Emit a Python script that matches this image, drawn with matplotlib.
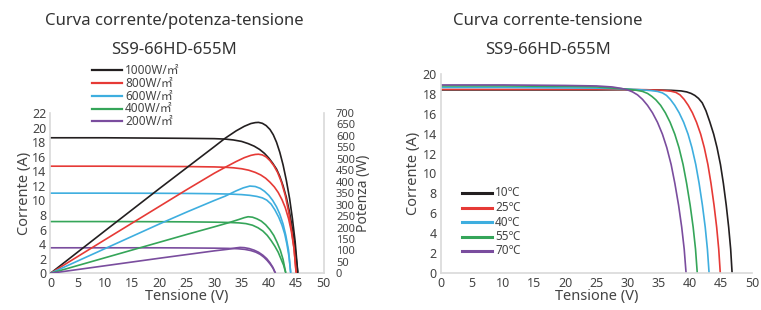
import matplotlib
matplotlib.use("Agg")
import matplotlib.pyplot as plt
from matplotlib.lines import Line2D

plt.rcParams["font.family"] = ["Noto Sans", "Noto Sans CJK SC", "DejaVu Sans"]

# ---- left chart: current / power vs voltage at different irradiance ----
irr_labels = ["1000W/㎡", "800W/㎡", "600W/㎡", "400W/㎡", "200W/㎡"]
irr_colors = ["#231f20", "#e63a36", "#3eaedf", "#35a559", "#7a4d9e"]

v_i_1000 = [0, 10, 20, 25, 30, 32, 33.5, 35, 36.2, 37.3, 38.3, 39.2, 40.0, 40.7, 41.4, 42.0, 42.6, 43.2, 43.8, 44.3, 44.8, 45.3]
i_1000 = [18.6, 18.6, 18.55, 18.52, 18.48, 18.42, 18.3, 18.1, 17.8, 17.45, 17.0, 16.45, 15.8, 15.1, 14.3, 13.3, 12.0, 10.4, 8.3, 6.1, 3.4, 0]
v_i_800 = [0, 10, 20, 25, 30, 32, 33.5, 35, 36.3, 37.5, 38.5, 39.4, 40.2, 41.0, 41.7, 42.4, 43.0, 43.6, 44.1, 44.6, 45.0]
i_800 = [14.7, 14.7, 14.67, 14.65, 14.6, 14.55, 14.48, 14.35, 14.15, 13.85, 13.5, 13.05, 12.5, 11.85, 11.1, 10.1, 9.0, 7.5, 5.8, 3.4, 0]
v_i_600 = [0, 10, 20, 25, 30, 33, 35, 36.5, 37.8, 38.8, 39.6, 40.4, 41.1, 41.8, 42.4, 42.9, 43.3, 43.7, 44.0]
i_600 = [11.0, 11.0, 10.98, 10.96, 10.92, 10.87, 10.8, 10.7, 10.55, 10.35, 10.05, 9.5, 8.7, 7.7, 6.6, 5.4, 4.0, 2.2, 0]
v_i_400 = [0, 10, 20, 25, 30, 32.5, 34.5, 35.8, 37.0, 38.0, 38.9, 39.7, 40.4, 41.1, 41.7, 42.2, 42.7, 43.1]
i_400 = [7.1, 7.1, 7.08, 7.06, 7.02, 6.98, 6.92, 6.82, 6.6, 6.25, 5.8, 5.2, 4.5, 3.7, 2.9, 2.0, 1.1, 0]
v_i_200 = [0, 10, 20, 25, 30, 32.5, 34.3, 35.6, 36.7, 37.6, 38.4, 39.1, 39.7, 40.3, 40.8, 41.2]
i_200 = [3.5, 3.5, 3.5, 3.48, 3.45, 3.42, 3.37, 3.28, 3.12, 2.9, 2.6, 2.2, 1.75, 1.2, 0.65, 0]

v_p_1000 = [0, 10, 20, 25, 30, 32, 34, 35.5, 36.7, 37.5, 38.1, 38.8, 39.5, 40.2, 40.8, 41.4, 42.0, 42.6, 43.2, 43.8, 44.3, 44.8, 45.3]
p_1000 = [0, 186, 371, 462, 553, 590, 622, 642, 654, 658, 659, 655, 645, 628, 605, 572, 528, 473, 405, 325, 240, 140, 0]
v_p_800 = [0, 10, 20, 25, 30, 32, 34, 35.5, 36.7, 37.5, 38.1, 38.8, 39.5, 40.2, 40.9, 41.6, 42.3, 43.0, 43.6, 44.2, 44.6, 45.0]
p_800 = [0, 147, 293, 366, 437, 463, 488, 505, 515, 519, 520, 517, 508, 492, 470, 440, 398, 340, 270, 180, 110, 0]
v_p_600 = [0, 10, 20, 25, 30, 32, 34, 35.3, 36.5, 37.5, 38.4, 39.2, 40.0, 40.7, 41.4, 42.0, 42.6, 43.1, 43.6, 44.0]
p_600 = [0, 108, 216, 268, 318, 337, 360, 373, 381, 379, 371, 358, 340, 318, 290, 258, 215, 165, 100, 0]
v_p_400 = [0, 10, 20, 25, 30, 32.5, 34.5, 35.5, 36.2, 37.0, 37.8, 38.6, 39.4, 40.2, 40.9, 41.5, 42.1, 42.6, 43.1]
p_400 = [0, 68, 136, 170, 203, 220, 235, 243, 247, 245, 238, 228, 212, 190, 165, 135, 100, 60, 0]
v_p_200 = [0, 10, 20, 25, 30, 32.5, 34.0, 34.7, 35.5, 36.4, 37.3, 38.1, 38.9, 39.6, 40.2, 40.7, 41.2]
p_200 = [0, 33, 66, 82, 98, 105, 111, 113, 112, 108, 101, 92, 79, 64, 46, 27, 0]

# ---- right chart: current vs voltage at different temperatures ----
temp_labels = ["10℃", "25℃", "40℃", "55℃", "70℃"]
temp_colors = ["#231f20", "#e63a36", "#3eaedf", "#35a559", "#7a4d9e"]

v_10 = [0, 10, 20, 25, 29.5, 34, 37, 38.6, 39.5, 40.2, 40.8, 41.4, 42.0, 42.6, 43.21, 43.84, 44.38, 44.93, 45.4, 45.86, 46.25, 46.57, 46.8]
i_10 = [18.4, 18.4, 18.4, 18.4, 18.42, 18.4, 18.36, 18.3, 18.2, 18.05, 17.85, 17.55, 17.1, 16.3, 15.2, 13.95, 12.6, 10.9, 9.0, 6.8, 4.6, 2.4, 0]
v_25 = [0, 10, 20, 25, 29.5, 33, 35.5, 36.9, 37.76, 38.43, 39.09, 39.75, 40.42, 41.08, 41.75, 42.33, 42.91, 43.41, 43.9, 44.32, 44.65, 44.9]
i_25 = [18.45, 18.45, 18.45, 18.45, 18.45, 18.42, 18.36, 18.28, 18.15, 17.9, 17.45, 16.85, 16.1, 15.15, 13.95, 12.6, 10.9, 9.0, 6.8, 4.6, 2.4, 0]
v_40 = [0, 10, 20, 25, 29.5, 32, 33.8, 34.8, 35.6, 36.25, 36.87, 37.58, 38.29, 39.01, 39.72, 40.34, 40.96, 41.5, 42.03, 42.48, 42.83, 43.1]
i_40 = [18.65, 18.65, 18.6, 18.58, 18.5, 18.42, 18.33, 18.25, 18.1, 17.85, 17.45, 16.85, 16.1, 15.15, 13.95, 12.6, 10.9, 9.0, 6.8, 4.6, 2.4, 0]
v_55 = [0, 10, 20, 25, 29.5, 31.3, 32.4, 33.2, 33.9, 34.55, 35.31, 36.07, 36.83, 37.59, 38.26, 38.92, 39.49, 40.06, 40.54, 40.92, 41.2]
i_55 = [18.8, 18.8, 18.75, 18.7, 18.5, 18.38, 18.25, 18.05, 17.75, 17.4, 16.85, 16.1, 15.15, 13.95, 12.6, 10.9, 9.0, 6.8, 4.6, 2.4, 0]
v_70 = [0, 10, 20, 25, 27.5, 29, 30, 30.8, 31.6, 32.4, 33.2, 34.0, 34.8, 35.6, 36.3, 37.0, 37.6, 38.2, 38.7, 39.1, 39.4]
i_70 = [18.9, 18.9, 18.85, 18.8, 18.7, 18.55, 18.4, 18.2, 17.9, 17.45, 16.85, 16.1, 15.15, 13.95, 12.6, 10.9, 9.0, 6.8, 4.6, 2.4, 0]

x_ticks = list(range(0, 51, 5))
left_i_ticks = list(range(0, 23, 2))
left_p_ticks = list(range(0, 701, 50))
right_i_ticks = list(range(0, 21, 2))

W, H = 761, 310
SPINE = "#d9d9d9"
TXT = "#444444"
TICK_FS = 9
LABEL_FS = 10.5


def fig_rect(x0, y0, x1, y1):
    # pixel box (top-left origin) -> figure fraction
    return [x0 / W, 1 - y1 / H, (x1 - x0) / W, (y1 - y0) / H]


def style_axis(ax):
    ax.tick_params(length=0, labelsize=TICK_FS, labelcolor=TXT, pad=3)
    for side in ("top", "right"):
        ax.spines[side].set_visible(False)
    for side in ("left", "bottom"):
        ax.spines[side].set_color(SPINE)
        ax.spines[side].set_linewidth(1.2)


def draw_legend(fig, labels, colors, x0, x1, ys, lw, fs):
    for lab, c, y in zip(labels, colors, ys):
        fy = 1 - y / H
        fig.add_artist(Line2D([x0 / W, x1 / W], [fy, fy], color=c, lw=lw,
                              transform=fig.transFigure))
        fig.text((x1 + 3) / W, fy, lab, ha="left", va="center",
                 fontsize=fs, color=TXT)


fig = plt.figure(figsize=(W / 100, H / 100), dpi=100)

# left chart
ax1 = fig.add_axes(fig_rect(50.5, 113, 323.5, 273.3))
ax2 = ax1.twinx()
style_axis(ax1)
ax2.tick_params(length=0, labelsize=8, labelcolor=TXT, pad=9)
for side in ("top", "left", "bottom"):
    ax2.spines[side].set_visible(False)
ax2.spines["right"].set_color(SPINE)
ax2.spines["right"].set_linewidth(1.2)

i_curves = [(v_i_1000, i_1000), (v_i_800, i_800), (v_i_600, i_600), (v_i_400, i_400), (v_i_200, i_200)]
p_curves = [(v_p_1000, p_1000), (v_p_800, p_800), (v_p_600, p_600), (v_p_400, p_400), (v_p_200, p_200)]
for (vi, ii), (vp, pp), c in zip(i_curves, p_curves, irr_colors):
    ax1.plot(vi, ii, color=c, lw=1.2, solid_joinstyle="round", solid_capstyle="round")
    ax2.plot(vp, pp, color=c, lw=1.2, solid_joinstyle="round", solid_capstyle="round")

ax1.set_xlim(0, 50)
ax1.set_ylim(0, 22)
ax2.set_ylim(0, 700)
ax1.set_xticks(x_ticks)
ax1.set_yticks(left_i_ticks)
ax2.set_yticks(left_p_ticks)
ax1.set_xlabel("Tensione (V)", fontsize=LABEL_FS, color=TXT, labelpad=-1)
ax1.set_ylabel("Corrente (A)", fontsize=LABEL_FS, color=TXT, labelpad=0)
ax2.set_ylabel("Potenza (W)", fontsize=10, color=TXT, labelpad=1)

draw_legend(fig, irr_labels, irr_colors, 92, 122, [70, 83, 96, 108.5, 121], 1.6, 8.5)

# right chart
ax3 = fig.add_axes(fig_rect(441, 74, 752, 273))
style_axis(ax3)
t_curves = [(v_10, i_10), (v_25, i_25), (v_40, i_40), (v_55, i_55), (v_70, i_70)]
for (vv, ii), c in zip(t_curves, temp_colors):
    ax3.plot(vv, ii, color=c, lw=1.2, solid_joinstyle="round", solid_capstyle="round")
ax3.set_xlim(0, 50)
ax3.set_ylim(0, 20)
ax3.set_xticks(x_ticks)
ax3.set_yticks(right_i_ticks)
ax3.set_xlabel("Tensione (V)", fontsize=LABEL_FS, color=TXT, labelpad=-1)
ax3.set_ylabel("Corrente (A)", fontsize=LABEL_FS, color=TXT, labelpad=1)

draw_legend(fig, temp_labels, temp_colors, 462, 492, [193, 207.5, 222, 236.5, 251], 2.2, 8.5)

# titles
for cx, title in [(174, "Curva corrente/potenza-tensione"), (548, "Curva corrente-tensione")]:
    fig.text(cx / W, 1 - 21 / H, title, ha="center", va="center",
             fontsize=12, color="#333333")
    fig.text(cx / W, 1 - 50 / H, "SS9-66HD-655M", ha="center", va="center",
             fontsize=12, color="#333333")

fig.savefig("out.png", dpi=100)
